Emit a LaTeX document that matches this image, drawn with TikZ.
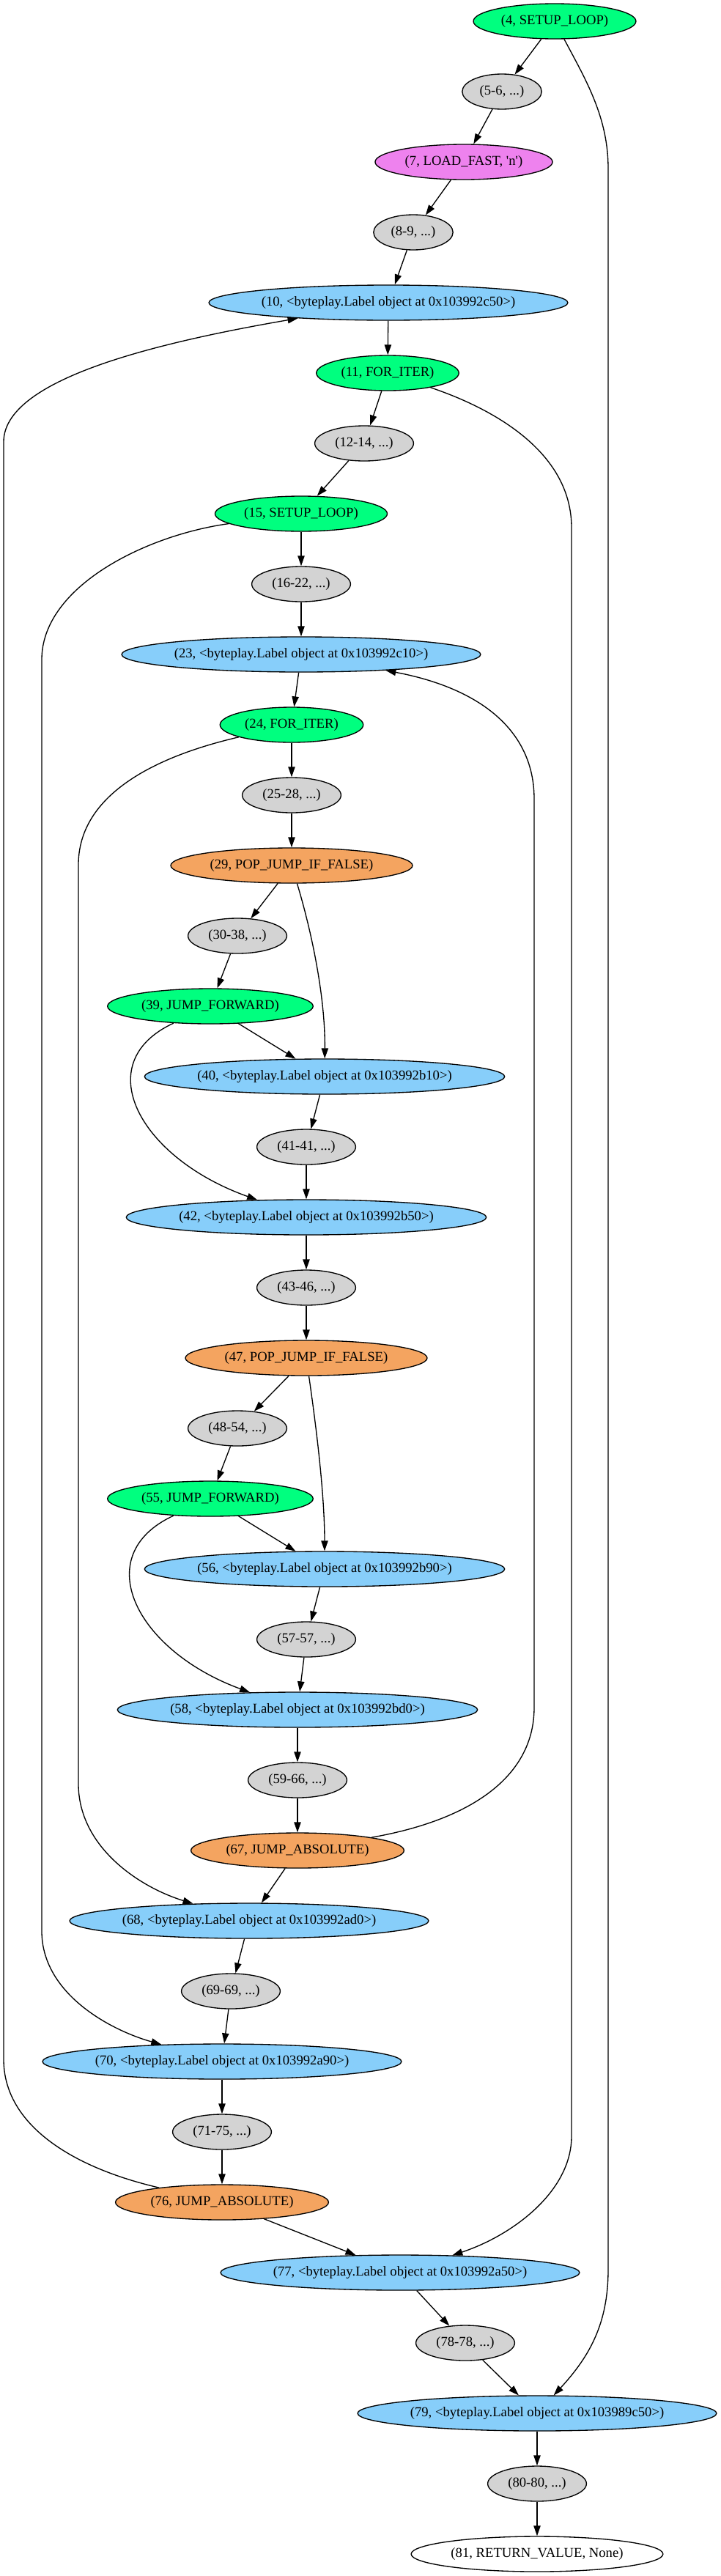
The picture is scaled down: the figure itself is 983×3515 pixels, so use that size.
\documentclass[tikz,border=0pt]{standalone}
\usepackage{fontspec}
\setmainfont{Liberation Serif}
\usetikzlibrary{shapes.geometric,arrows.meta}
\definecolor{gvgreen}{RGB}{0,255,127}
\definecolor{gvviolet}{RGB}{238,130,238}
\definecolor{gvgray}{RGB}{211,211,211}
\definecolor{gvblue}{RGB}{135,206,250}
\definecolor{gvorange}{RGB}{244,164,96}
\begin{document}
\begin{tikzpicture}[x=0.75pt,y=-0.75pt]
  \tikzstyle{every node}=[draw=black,ellipse,line width=1pt,minimum height=36pt,
    inner ysep=0pt,inner xsep=4pt,font=\fontsize{14}{16}\selectfont]
  \tikzstyle{grn}=[fill=gvgreen]
  \tikzstyle{ld}=[fill=gvviolet]
  \tikzstyle{blk}=[fill=gvgray,inner xsep=6pt]
  \tikzstyle{lbl}=[fill=gvblue,inner xsep=0pt]
  \tikzstyle{jmp}=[fill=gvorange]
  \tikzstyle{ret}=[fill=white,inner xsep=3pt]
  \tikzstyle{edge}=[line width=1pt,-{Triangle[length=10.5pt,width=7pt]}]

  \useasboundingbox (0,0) rectangle (983,3515);

  \node[grn] (n4)  at (757,29)   {(4, SETUP\_LOOP)};
  \node[blk] (n5)  at (685,125)  {(5-6, ...)};
  \node[ld]  (n7)  at (633,221)  {(7, LOAD\_FAST, \textquotesingle n\textquotesingle)};
  \node[blk] (n8)  at (564,317)  {(8-9, ...)};
  \node[lbl] (n10) at (530,413)  {(10, <byteplay.Label object at 0x103992c50>)};
  \node[grn] (n11) at (529,509)  {(11, FOR\_ITER)};
  \node[blk] (n12) at (497,605)  {(12-14, ...)};
  \node[grn] (n15) at (411,701)  {(15, SETUP\_LOOP)};
  \node[blk] (n16) at (411,797)  {(16-22, ...)};
  \node[lbl] (n23) at (411,893)  {(23, <byteplay.Label object at 0x103992c10>)};
  \node[grn] (n24) at (398,989)  {(24, FOR\_ITER)};
  \node[blk] (n25) at (398,1085) {(25-28, ...)};
  \node[jmp] (n29) at (398,1181) {(29, POP\_JUMP\_IF\_FALSE)};
  \node[blk] (n30) at (324,1277) {(30-38, ...)};
  \node[grn] (n39) at (287,1373) {(39, JUMP\_FORWARD)};
  \node[lbl] (n40) at (443,1469) {(40, <byteplay.Label object at 0x103992b10>)};
  \node[blk] (n41) at (418,1565) {(41-41, ...)};
  \node[lbl] (n42) at (418,1661) {(42, <byteplay.Label object at 0x103992b50>)};
  \node[blk] (n43) at (418,1757) {(43-46, ...)};
  \node[jmp] (n47) at (418,1853) {(47, POP\_JUMP\_IF\_FALSE)};
  \node[blk] (n48) at (324,1949) {(48-54, ...)};
  \node[grn] (n55) at (287,2045) {(55, JUMP\_FORWARD)};
  \node[lbl] (n56) at (443,2141) {(56, <byteplay.Label object at 0x103992b90>)};
  \node[blk] (n57) at (418,2237) {(57-57, ...)};
  \node[lbl] (n58) at (406,2333) {(58, <byteplay.Label object at 0x103992bd0>)};
  \node[blk] (n59) at (406,2429) {(59-66, ...)};
  \node[jmp] (n67) at (406,2525) {(67, JUMP\_ABSOLUTE)};
  \node[lbl] (n68) at (340,2621) {(68, <byteplay.Label object at 0x103992ad0>)};
  \node[blk] (n69) at (315,2717) {(69-69, ...)};
  \node[lbl] (n70) at (303,2813) {(70, <byteplay.Label object at 0x103992a90>)};
  \node[blk] (n71) at (303,2909) {(71-75, ...)};
  \node[jmp] (n76) at (303,3005) {(76, JUMP\_ABSOLUTE)};
  \node[lbl] (n77) at (546,3101) {(77, <byteplay.Label object at 0x103992a50>)};
  \node[blk] (n78) at (635,3197) {(78-78, ...)};
  \node[lbl] (n79) at (733,3293) {(79, <byteplay.Label object at 0x103989c50>)};
  \node[blk] (n80) at (733,3389) {(80-80, ...)};
  \node[ret] (n81) at (733,3485) {(81, RETURN\_VALUE, None)};

  % straight edges
  \draw[edge] (n4) -- (n5);
  \draw[edge] (n5) -- (n7);
  \draw[edge] (n7) -- (n8);
  \draw[edge] (n8) -- (n10);
  \draw[edge] (n10) -- (n11);
  \draw[edge] (n11) -- (n12);
  \draw[edge] (n12) -- (n15);
  \draw[edge] (n15) -- (n16);
  \draw[edge] (n16) -- (n23);
  \draw[edge] (n23) -- (n24);
  \draw[edge] (n24) -- (n25);
  \draw[edge] (n25) -- (n29);
  \draw[edge] (n29) -- (n30);
  \draw[edge] (n30) -- (n39);
  \draw[edge] (n39) -- (n40);
  \draw[edge] (n40) -- (n41);
  \draw[edge] (n41) -- (n42);
  \draw[edge] (n42) -- (n43);
  \draw[edge] (n43) -- (n47);
  \draw[edge] (n47) -- (n48);
  \draw[edge] (n48) -- (n55);
  \draw[edge] (n55) -- (n56);
  \draw[edge] (n56) -- (n57);
  \draw[edge] (n57) -- (n58);
  \draw[edge] (n58) -- (n59);
  \draw[edge] (n59) -- (n67);
  \draw[edge] (n67) -- (n68);
  \draw[edge] (n68) -- (n69);
  \draw[edge] (n69) -- (n70);
  \draw[edge] (n70) -- (n71);
  \draw[edge] (n71) -- (n76);
  \draw[edge] (n76) -- (n77);
  \draw[edge] (n77) -- (n78);
  \draw[edge] (n78) -- (n79);
  \draw[edge] (n79) -- (n80);
  \draw[edge] (n80) -- (n81);

  % forward jumps
  \draw[edge] (n29) .. controls (425,1270) and (444,1360) .. (n40);
  \draw[edge] (n47) .. controls (432,1950) and (443,2040) .. (n56);
  \draw[edge] (n39) .. controls (120,1450) and (190,1580) .. (n42);
  \draw[edge] (n55) .. controls (120,2122) and (185,2252) .. (n58);
  \draw[edge] (n24) .. controls (200,1035) and (107,1090) .. (107,1180)
    -- (107,2434) .. controls (107,2520) and (190,2575) .. (n68);
  \draw[edge] (n15) .. controls (200,730) and (57,800) .. (57,900)
    -- (57,2635) .. controls (57,2720) and (150,2770) .. (n70);
  \draw[edge] (n11) .. controls (680,560) and (780,620) .. (780,720)
    -- (780,2915) .. controls (780,2990) and (700,3050) .. (n77);
  \draw[edge] (n4) .. controls (800,110) and (830,160) .. (830,230)
    -- (830,3097) .. controls (830,3170) and (805,3215) .. (n79);

  % back edges
  \draw[edge] (n67) .. controls (650,2482) and (729,2420) .. (729,2330)
    -- (729,1090) .. controls (729,1000) and (660,940) .. (n23);
  \draw[edge] (n76) .. controls (100,2958) and (5,2900) .. (5,2810)
    -- (5,603) .. controls (5,520) and (200,470) .. (n10);
\end{tikzpicture}
\end{document}
